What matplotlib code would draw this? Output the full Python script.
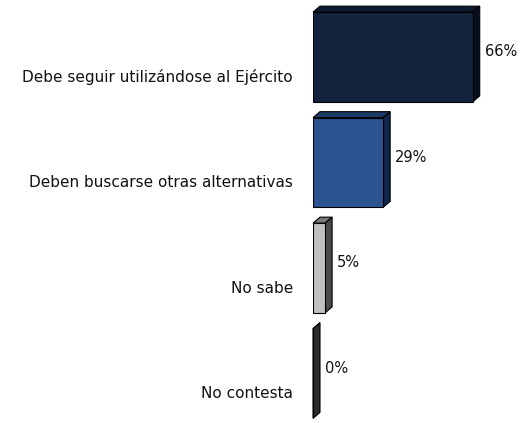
import matplotlib.pyplot as plt
from matplotlib.patches import Polygon

categorias = ["Debe seguir utilizándose al Ejército",
              "Deben buscarse otras alternativas",
              "No sabe",
              "No contesta"]
valores = [66, 29, 5, 0]
etiquetas = ["66%", "29%", "5%", "0%"]

color_frente = ["#13233d", "#2b5491", "#c0c0c0", "#3a3a3a"]
color_lado = ["#070f1c", "#12254a", "#4a4a4a", "#2a2a2a"]
color_arriba = ["#0d1a2e", "#1d3a66", "#7a7a7a", "#2f2f2f"]

fig = plt.figure(figsize=(5.24, 4.23), dpi=100)
# eje: 0% en x=313 px, 1% = 2.42 px
px_por_pct = 2.42
izq = 313 / 524
ancho = 80 * px_por_pct / 524
ax = fig.add_axes([izq, 0, ancho, 1])
ax.set_xlim(0, 80)
paso = 105.5
ax.set_ylim((423 - 57) / paso, -57 / paso)
ax.axis("off")

alto = 0.85
dx = 7 / px_por_pct   # profundidad en x
dy = -6 / paso        # profundidad en y (hacia arriba)

for i, v in enumerate(valores):
    y0 = i - alto / 2
    y1 = i + alto / 2
    # cara superior
    ax.add_patch(Polygon([(0, y0), (v, y0), (v + dx, y0 + dy), (dx, y0 + dy)],
                         closed=True, facecolor=color_arriba[i],
                         edgecolor="black", linewidth=0.8, clip_on=False))
    # cara lateral
    ax.add_patch(Polygon([(v, y0), (v + dx, y0 + dy), (v + dx, y1 + dy), (v, y1)],
                         closed=True, facecolor=color_lado[i],
                         edgecolor="black", linewidth=0.8, clip_on=False))
    # cara frontal
    ax.barh(i, v, height=alto, color=color_frente[i], edgecolor="black",
            linewidth=0.8, align="center")
    ax.text(v + dx + 2.0, i - 0.05, etiquetas[i], ha="left", va="center",
            fontsize=10.5, color="#111111", clip_on=False)
    ax.text(-8.3, i + 0.19, categorias[i], ha="right", va="center",
            fontsize=11, color="#111111", clip_on=False)

fig.savefig("out.png", dpi=100)
